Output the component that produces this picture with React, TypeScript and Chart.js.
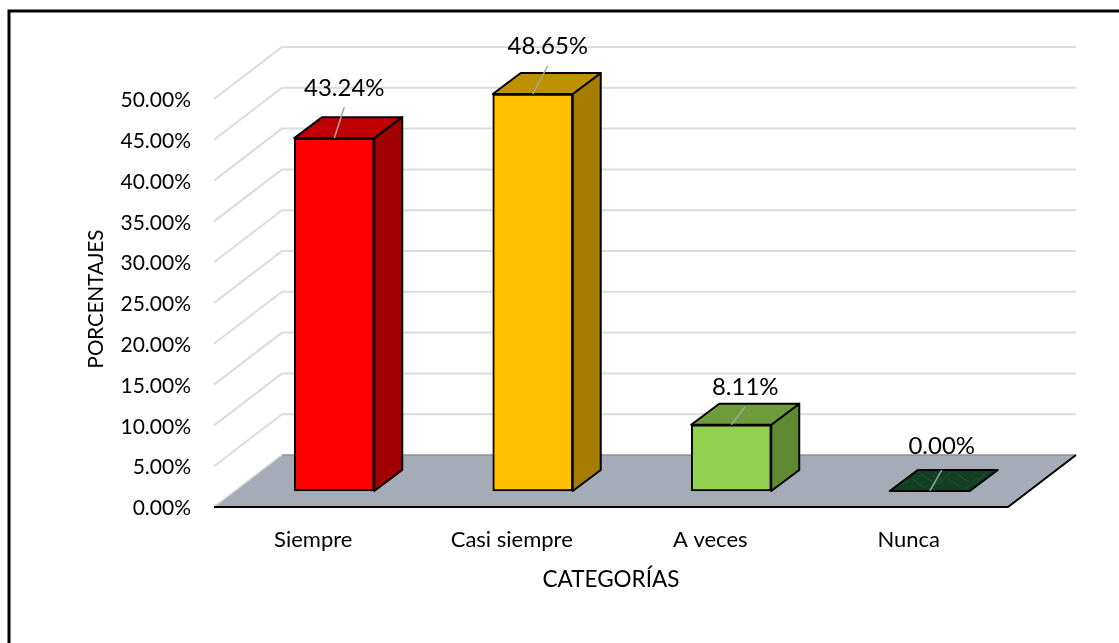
import React, { useEffect, useRef } from "react";
import { Chart, registerables } from "chart.js";

Chart.register(...registerables);

const categories = ["Siempre", "Casi siempre", "A veces", "Nunca"];
const percentages = [43.24, 48.65, 8.11, 0];
const tickStep = 5;
const axisMax = 50;
const yTitle = "PORCENTAJES";
const xTitle = "CATEGORÍAS";

const frontColors = ["#FF0000", "#FFC000", "#92D050", "#123F22"];
const topColors = ["#C00000", "#BF9000", "#6E9C3C", "#123F22"];
const sideColors = ["#A00000", "#A67C00", "#5F8A32", "#123F22"];

const FONT = "Lato, 'Open Sans', sans-serif";
const area = { left: 214, right: 1008, top: 99, bottom: 507 };
const WALL = { dx: 68, dy: -52 };
const BAR_SHIFT = { dx: 21, dy: -16 };
const BAR_DEPTH = { dx: 28, dy: -21 };
const labelOffsets = [
  { tx: 10, ty: -50, lx: 10, ly: -31 },
  { tx: 15, ty: -48, lx: 15, ly: -28 },
  { tx: 14, ty: -38, lx: 14, ly: -18 },
  { tx: 12, ty: -45, lx: 12, ly: -21 },
];

const poly = (ctx: CanvasRenderingContext2D, pts: number[][]) => {
  ctx.beginPath();
  pts.forEach((p, i) => (i ? ctx.lineTo(p[0], p[1]) : ctx.moveTo(p[0], p[1])));
  ctx.closePath();
};

const scenePlugin = {
  id: "scene3d",
  beforeDraw(chart: any) {
    const { ctx, chartArea: a, scales } = chart;
    ctx.save();
    // frame
    ctx.strokeStyle = "#000";
    ctx.lineWidth = 3;
    ctx.beginPath();
    ctx.moveTo(9, 643);
    ctx.lineTo(9, 11);
    ctx.lineTo(1119, 11);
    ctx.stroke();
    // wall gridlines
    ctx.strokeStyle = "#DCDCDC";
    ctx.lineWidth = 2;
    scales.y.ticks.forEach((t: any) => {
      if (t.value === 0) return;
      const y = scales.y.getPixelForValue(t.value);
      ctx.beginPath();
      ctx.moveTo(a.left, y);
      ctx.lineTo(a.left + WALL.dx, y + WALL.dy);
      ctx.lineTo(a.right + WALL.dx, y + WALL.dy);
      ctx.stroke();
    });
    // floor
    const b = scales.y.getPixelForValue(0);
    poly(ctx, [
      [a.left, b],
      [a.left + WALL.dx, b + WALL.dy],
      [a.right + WALL.dx, b + WALL.dy],
      [a.right, b],
    ]);
    ctx.fillStyle = "#A5ACB7";
    ctx.fill();
    ctx.strokeStyle = "#8E9299";
    ctx.lineWidth = 1.5;
    ctx.beginPath();
    ctx.moveTo(a.left + WALL.dx, b + WALL.dy);
    ctx.lineTo(a.right + WALL.dx, b + WALL.dy);
    ctx.stroke();
    ctx.strokeStyle = "#D0D0D0";
    ctx.beginPath();
    ctx.moveTo(a.left, b);
    ctx.lineTo(a.left + WALL.dx, b + WALL.dy);
    ctx.stroke();
    ctx.strokeStyle = "#000";
    ctx.lineWidth = 2;
    ctx.beginPath();
    ctx.moveTo(a.left, b);
    ctx.lineTo(a.right, b);
    ctx.lineTo(a.right + WALL.dx, b + WALL.dy);
    ctx.stroke();
    // y axis title
    ctx.save();
    ctx.translate(96, 299);
    ctx.rotate(-Math.PI / 2);
    ctx.fillStyle = "#000";
    ctx.font = `20.5px ${FONT}`;
    ctx.textAlign = "center";
    ctx.textBaseline = "middle";
    ctx.fillText(yTitle, 0, 0);
    ctx.restore();
    ctx.restore();
  },
  beforeDatasetDraw(chart: any) {
    chart.ctx.save();
    chart.ctx.translate(BAR_SHIFT.dx, BAR_SHIFT.dy);
  },
  afterDatasetDraw(chart: any) {
    const ctx = chart.ctx;
    const meta = chart.getDatasetMeta(0);
    ctx.lineJoin = "round";
    meta.data.forEach((el: any, i: number) => {
      const l = el.x - el.width / 2;
      const r = el.x + el.width / 2;
      const top = el.y;
      const base = el.base;
      const { dx, dy } = BAR_DEPTH;
      ctx.strokeStyle = "#000";
      ctx.lineWidth = 2;
      if (base - top > 1) {
        poly(ctx, [[r, top], [r + dx, top + dy], [r + dx, base + dy], [r, base]]);
        ctx.fillStyle = sideColors[i];
        ctx.fill();
        ctx.stroke();
      }
      const topFace = [[l, top], [l + dx, top + dy], [r + dx, top + dy], [r, top]];
      poly(ctx, topFace);
      ctx.fillStyle = topColors[i];
      ctx.fill();
      if (base - top <= 1) {
        // mottled marble look of the empty bar
        ctx.save();
        ctx.clip();
        ctx.strokeStyle = "rgba(90,150,110,0.28)";
        ctx.lineWidth = 1;
        for (let k = 0; k < 12; k++) {
          ctx.beginPath();
          ctx.moveTo(l + 4 + k * 9, top - 2 - (k % 4) * 5);
          ctx.lineTo(l + 16 + k * 9, top - 4 - ((k + 2) % 4) * 5);
          ctx.stroke();
        }
        ctx.restore();
        ctx.strokeStyle = "#000";
        ctx.lineWidth = 2;
        poly(ctx, topFace);
      }
      ctx.stroke();
    });
    ctx.restore();
  },
  afterDatasetsDraw(chart: any) {
    const ctx = chart.ctx;
    const meta = chart.getDatasetMeta(0);
    ctx.save();
    meta.data.forEach((el: any, i: number) => {
      const o = labelOffsets[i];
      const cx = el.x + BAR_SHIFT.dx;
      const top = el.y + BAR_SHIFT.dy;
      ctx.strokeStyle = "#A6A6A6";
      ctx.lineWidth = 1.5;
      ctx.beginPath();
      ctx.moveTo(cx, top);
      ctx.lineTo(cx + o.lx, top + o.ly);
      ctx.stroke();
      ctx.fillStyle = "#000";
      ctx.font = `24px ${FONT}`;
      ctx.textAlign = "center";
      ctx.textBaseline = "middle";
      ctx.fillText(percentages[i].toFixed(2) + "%", cx + o.tx, top + o.ty);
    });
    ctx.restore();
  },
};

export default function App() {
  const ref = useRef<HTMLCanvasElement>(null);
  useEffect(() => {
    const chart = new Chart(ref.current!, {
      type: "bar",
      plugins: [scenePlugin],
      data: {
        labels: categories,
        datasets: [
          {
            data: percentages,
            backgroundColor: frontColors,
            borderColor: "#000",
            borderWidth: 2,
            borderSkipped: false,
            barThickness: 80,
            clip: false,
          } as any,
        ],
      },
      options: {
        animation: false,
        responsive: false,
        layout: {
          padding: { left: 0, top: area.top, right: 1119 - area.right, bottom: 0 },
        },
        plugins: { legend: { display: false }, tooltip: { enabled: false } },
        scales: {
          x: {
            afterFit: (s: any) => {
              s.height = 643 - area.bottom;
            },
            grid: { display: false },
            border: { display: false },
            ticks: { font: { family: FONT, size: 22 }, color: "#000", padding: 12, maxRotation: 0 },
            title: {
              display: true,
              text: xTitle,
              color: "#000",
              font: { family: FONT, size: 22.5 },
              padding: { top: 0, bottom: 50 },
            },
          },
          y: {
            min: 0,
            max: axisMax,
            afterFit: (s: any) => {
              s.width = area.left;
            },
            grid: { display: false },
            border: { display: false },
            ticks: {
              stepSize: tickStep,
              font: { family: FONT, size: 21 },
              color: "#000",
              padding: 15,
              labelOffset: 1.5,
              callback: (v: any) => Number(v).toFixed(2) + "%",
            },
          },
        },
      },
    } as any);
    return () => chart.destroy();
  }, []);
  return (
    <div style={{ position: "fixed", left: 0, top: 0, width: 1119, height: 643, background: "#fff" }}>
      <canvas ref={ref} width={1119} height={643} style={{ display: "block" }} />
    </div>
  );
}
